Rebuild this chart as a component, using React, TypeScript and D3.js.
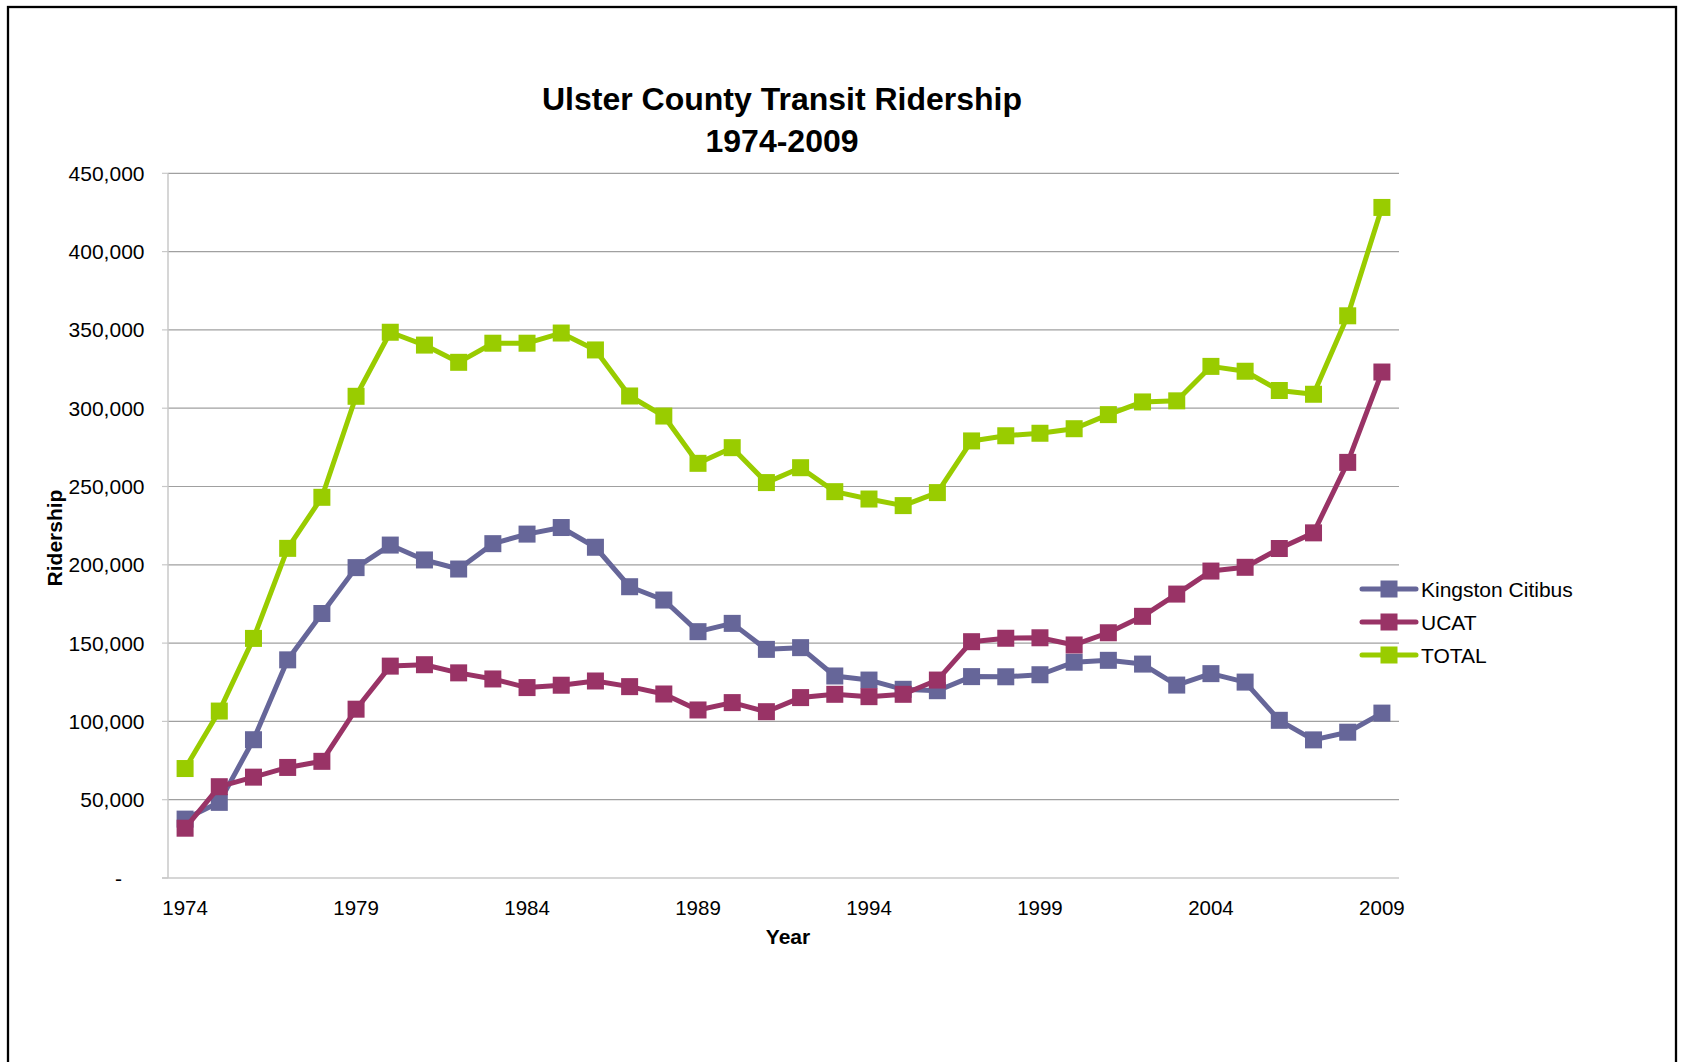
import React from 'react';
import * as d3 from "d3";

const years = [
    1974, 1975, 1976, 1977, 1978, 1979, 1980, 1981, 1982, 1983, 1984, 1985,
    1986, 1987, 1988, 1989, 1990, 1991, 1992, 1993, 1994, 1995, 1996, 1997,
    1998, 1999, 2000, 2001, 2002, 2003, 2004, 2005, 2006, 2007, 2008, 2009
];

const kingstonCitibus = [
    37600, 48300, 88300, 139300, 168900, 198200, 212600, 203100, 197300, 213500, 219600, 223800,
    211200, 186000, 177500, 157300, 162600, 146000, 147100, 129000, 126400, 120500, 119600, 128600,
    128500, 129800, 137800, 139000, 136600, 123200, 130500, 125100, 100700, 88200, 93100, 105300
];

const ucat = [
    31800, 58300, 64400, 70600, 74500, 107800, 135300, 136200, 131000, 127100, 121600, 123100,
    125800, 122200, 117500, 107300, 112000, 106200, 115200, 117300, 115800, 117300, 126400, 150900,
    153100, 153400, 148800, 156600, 167100, 181300, 196000, 198400, 210400, 220400, 265400, 323100
];

const total = [
    69900, 106600, 153000, 210500, 243100, 307600, 348500, 340300, 329300, 341500, 341500, 348000,
    337200, 307800, 295000, 264800, 274800, 252500, 262000, 246700, 242000, 237800, 246100, 279100,
    282400, 284000, 286900, 295900, 304000, 304700, 326700, 323600, 311300, 308900, 359000, 428200
];

const yTicks = [0, 50000, 100000, 150000, 200000, 250000, 300000, 350000, 400000, 450000];
const xTickYears = [1974, 1979, 1984, 1989, 1994, 1999, 2004, 2009];

const seriesNames = ["Kingston Citibus", "UCAT", "TOTAL"];
const seriesColors = ["#666699", "#993366", "#99CC00"];

const App = () => {
    const width = 1687,
        height = 1062;
    const plot = { left: 168, right: 1399, top: 173.3, bottom: 878 };
    const font = "'Liberation Sans', Arial, sans-serif";

    const xScale = d3.scalePoint<number>()
        .domain(years)
        .range([plot.left, plot.right])
        .padding(0.5);

    const yScale = d3.scaleLinear()
        .domain([0, 450000])
        .range([plot.bottom, plot.top]);

    const lineGenerator = d3.line<number>()
        .x((d, i) => xScale(years[i]) as number)
        .y(d => yScale(d));

    const fmt = d3.format(",");
    const allSeries = [kingstonCitibus, ucat, total];
    const markerSize = 17;

    return (
        <svg width={width} height={height} style={{ position: "absolute", left: 0, top: 0, background: "#fff" }}>
            <rect x={8} y={7} width={1668} height={1100} fill="#fff" stroke="#000" strokeWidth={2.3} />

            <text x={782} y={110} textAnchor="middle" fontFamily={font} fontWeight="bold" fontSize={32}>
                Ulster County Transit Ridership
            </text>
            <text x={782} y={151.5} textAnchor="middle" fontFamily={font} fontWeight="bold" fontSize={32}>
                1974-2009
            </text>

            {/* gridlines */}
            {yTicks.filter(t => t > 0).map(t => (
                <line key={t} x1={plot.left} x2={plot.right} y1={yScale(t)} y2={yScale(t)} stroke="#a0a0a0" strokeWidth={1.2} />
            ))}
            {yTicks.map(t => (
                <line key={"tk" + t} x1={plot.left - 6} x2={plot.left} y1={yScale(t)} y2={yScale(t)} stroke="#c8c8c8" strokeWidth={1.2} />
            ))}
            <line x1={plot.left} x2={plot.left} y1={plot.top} y2={plot.bottom} stroke="#c8c8c8" strokeWidth={1.5} />
            <line x1={plot.left - 6} x2={plot.right} y1={plot.bottom} y2={plot.bottom} stroke="#c8c8c8" strokeWidth={1.5} />

            {yTicks.map(t => (
                <text key={"lb" + t} x={t === 0 ? 122 : 144.5} y={yScale(t)} dy="0.36em" textAnchor="end"
                    fontFamily={font} fontSize={21}>
                    {t === 0 ? "-" : fmt(t)}
                </text>
            ))}

            {xTickYears.map(y => (
                <text key={y} x={xScale(y)} y={915} textAnchor="middle" fontFamily={font} fontSize={20.5}>
                    {y}
                </text>
            ))}

            <text x={788} y={944} textAnchor="middle" fontFamily={font} fontWeight="bold" fontSize={21}>Year</text>
            <text transform="translate(62,538) rotate(-90)" textAnchor="middle" fontFamily={font} fontWeight="bold" fontSize={21}>
                Ridership
            </text>

            {allSeries.map((s, k) => (
                <g key={seriesNames[k]}>
                    <path d={lineGenerator(s) as string} fill="none" stroke={seriesColors[k]} strokeWidth={5} strokeLinejoin="round" />
                    {s.map((v, i) => (
                        <rect key={i} x={(xScale(years[i]) as number) - markerSize / 2} y={yScale(v) - markerSize / 2}
                            width={markerSize} height={markerSize} fill={seriesColors[k]} />
                    ))}
                </g>
            ))}

            {/* legend */}
            {seriesNames.map((name, k) => {
                const ly = 589 + k * 33;
                return (
                    <g key={"lg" + name}>
                        <line x1={1362} x2={1416} y1={ly} y2={ly} stroke={seriesColors[k]} strokeWidth={5} strokeLinecap="round" />
                        <rect x={1389 - markerSize / 2} y={ly - markerSize / 2} width={markerSize} height={markerSize} fill={seriesColors[k]} />
                        <text x={1421} y={ly} dy="0.36em" fontFamily={font} fontSize={21}>{name}</text>
                    </g>
                );
            })}
        </svg>
    );
}

export default App;
